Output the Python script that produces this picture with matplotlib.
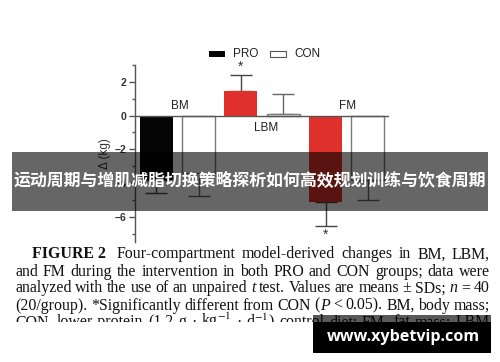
import numpy as np
import matplotlib
matplotlib.use('Agg')
import matplotlib.pyplot as plt
from matplotlib.patches import Rectangle

# chart data (change in kg)
groups = ['BM', 'LBM', 'FM']
pro_means = [-3.8, 1.43, -5.1]
pro_sds = [0.8, 1.0, 1.45]
con_means = [-3.4, 0.08, -3.8]
con_sds = [1.4, 1.22, 1.2]
significant = [False, True, True]
yticks = [2, 0, -2, -4, -6]

banner_text = '运动周期与增肌减脂切换策略探析如何高效规划训练与饮食周期'
watermark = 'www.xybetvip.com'

# caption lines; #...# = bold, _..._ = italic
caption = [
    '#FIGURE\u00a02#\u00a0 Four-compartment model-derived changes in BM, LBM,',
    'and FM during the intervention in both PRO and CON groups; data were',
    'analyzed with the use of an unpaired _t_ test. Values are means ± SDs; _n_ = 40',
    '(20/group). *Significantly different from CON (_P_ < 0.05). BM, body mass;',
    'CON, lower-protein (1.2 g · kg$^{-1}$ · d$^{-1}$) control diet; FM, fat mass; LBM',
]

W, H = 500, 362
plt.rcParams['font.family'] = ['Liberation Sans', 'DejaVu Sans']
plt.rcParams['mathtext.fontset'] = 'stix'
fig = plt.figure(figsize=(W / 100, H / 100), dpi=100)
renderer = fig.canvas.get_renderer()

def fx(x):
    return x / W

def fy(y):
    return 1 - y / H

def text_width(s, **kw):
    t = fig.text(0, 0, s, **kw)
    w = t.get_window_extent(renderer).width
    t.remove()
    return w

ax = fig.add_axes([fx(135), fy(242), fx(389) - fx(135), fy(65) - fy(242)])
ax.set_xlim(-0.5, 5.5)
ax.set_ylim(-7.5, 3)

red = '#e0302c'
pro_colors = ['#050505', red, red]
xs_pro = np.arange(len(groups)) * 2
xs_con = xs_pro + 1
bw = 0.78

ax.bar(xs_pro, pro_means, bw, color=pro_colors, edgecolor='none', zorder=2)
ax.bar(xs_con, con_means, bw, color='white', edgecolor='#7a7a7a', linewidth=1.0, zorder=2)

def one_sided(means, sds):
    lo = [sd if m < 0 else 0 for m, sd in zip(means, sds)]
    hi = [sd if m >= 0 else 0 for m, sd in zip(means, sds)]
    return [lo, hi]

ax.errorbar(xs_pro, pro_means, yerr=one_sided(pro_means, pro_sds), fmt='none',
            ecolor='#444444', elinewidth=1.0, capsize=8, capthick=1.0, zorder=1)
ax.errorbar(xs_con, con_means, yerr=one_sided(con_means, con_sds), fmt='none',
            ecolor='#666666', elinewidth=1.0, capsize=8, capthick=1.0, zorder=1)

for x, m, sd, sig in zip(xs_pro, pro_means, pro_sds, significant):
    if sig:
        y = m + sd + 0.45 if m >= 0 else m - sd - 0.5
        ax.text(x, y, '*', ha='center', va='center', fontsize=10, color='#333333')

# group labels
ax.text(0.55, 0.55, 'BM', ha='center', va='center', fontsize=8.5, color='#222222')
ax.text(2.6, -0.72, 'LBM', ha='center', va='center', fontsize=8.5, color='#222222')
ax.text(4.53, 0.55, 'FM', ha='center', va='center', fontsize=8.5, color='#222222')

ax.axhline(0, color='#555555', linewidth=1.0, zorder=3)
for s in ['top', 'right', 'bottom']:
    ax.spines[s].set_visible(False)
ax.spines['left'].set_color('#555555')
ax.spines['left'].set_linewidth(1.0)
ax.set_xticks([])
ax.set_yticks(yticks)
ax.set_yticks([3, 1, -1, -3, -5, -7], minor=True)
ax.tick_params(axis='y', which='major', length=4, width=1, color='#555555', labelsize=7.5,
               labelcolor='#333333', pad=2)
ax.tick_params(axis='y', which='minor', length=2.5, width=1, color='#555555')
for lab in ax.get_yticklabels():
    lab.set_fontweight('bold')
ax.set_ylabel('Δ (kg)', fontsize=8.5, color='#333333', labelpad=3)
ax.set_facecolor('none')

# legend
fig.add_artist(Rectangle((fx(209), fy(57)), fx(225) - fx(209), fy(51) - fy(57),
                         transform=fig.transFigure, facecolor='#050505', edgecolor='none'))
fig.add_artist(Rectangle((fx(270), fy(57)), fx(286) - fx(270), fy(51) - fy(57),
                         transform=fig.transFigure, facecolor='white', edgecolor='#555555', linewidth=0.8))
fig.text(fx(233), fy(54), 'PRO', ha='left', va='center', fontsize=8.5, color='#222222')
fig.text(fx(294), fy(54), 'CON', ha='left', va='center', fontsize=8.5, color='#222222')

# caption, justified between left and right edges
baselines = [258.5, 275.5, 292.5, 309.5, 326.5]
right = 490
serif = 'Liberation Serif'
probe = text_width(caption[1], fontsize=10, family=serif)
cap_size = 10 * 466 / probe

def parse_word(word):
    # split a word into (text, weight, style) runs
    runs, cur, bold, ital = [], '', False, False
    for ch in word:
        if ch in '#_':
            if cur:
                runs.append((cur, 'bold' if bold else 'normal', 'italic' if ital else 'normal'))
            cur = ''
            if ch == '#':
                bold = not bold
            else:
                ital = not ital
        else:
            cur += ch
    if cur:
        runs.append((cur, 'bold' if bold else 'normal', 'italic' if ital else 'normal'))
    return runs

# formatting state carries across words
def parse_line(line):
    words, bold, ital = [], False, False
    for w in line.split(' '):
        if not w:
            continue
        prefix = ('#' if bold else '') + ('_' if ital else '')
        runs = parse_word(prefix + w)
        bold ^= w.count('#') % 2 == 1
        ital ^= w.count('_') % 2 == 1
        words.append(runs)
    return words

for i, line in enumerate(caption):
    left = 32 if i == 0 else 15
    words = parse_line(line)
    run_w = [[text_width(t, fontsize=cap_size, family=serif, fontweight=wt, fontstyle=st)
              for t, wt, st in runs] for runs in words]
    total = sum(sum(r) for r in run_w)
    gap = (right - left - total) / max(len(words) - 1, 1)
    x = left
    for runs, widths in zip(words, run_w):
        for (t, wt, st), wd in zip(runs, widths):
            fig.text(fx(x), fy(baselines[i]), t, fontsize=cap_size, family=serif,
                     fontweight=wt, fontstyle=st, ha='left', va='baseline', color='#111111', zorder=1)
            x += wd
        x += gap

# cut-off of the last caption line
fig.add_artist(Rectangle((0, 0), 1, fy(321.5), transform=fig.transFigure,
                         facecolor='white', edgecolor='none', zorder=5))

# banner
fig.add_artist(Rectangle((fx(12), fy(211)), fx(488) - fx(12), fy(152) - fy(211),
                         transform=fig.transFigure, facecolor='black', alpha=0.6,
                         edgecolor='none', zorder=6))
cjk = ['Noto Sans CJK SC', 'DejaVu Sans']
bw_probe = text_width(banner_text, fontsize=10, family=cjk, fontweight='bold')
fig.text(0.5, fy(181), banner_text, ha='center', va='center', fontsize=10 * 474 / bw_probe,
         family=cjk, fontweight='bold', color='white', zorder=7)

# watermark box
fig.add_artist(Rectangle((fx(313), fy(321.5)), fx(491) - fx(313), fy(315) - fy(321.5),
                         transform=fig.transFigure, facecolor='black', alpha=0.65,
                         edgecolor='none', zorder=6))
fig.add_artist(Rectangle((fx(313), fy(353)), fx(491) - fx(313), fy(321.5) - fy(353),
                         transform=fig.transFigure, facecolor='black', edgecolor='none', zorder=6))
wm_probe = text_width(watermark, fontsize=10, family='Open Sans', fontweight='bold')
fig.text(fx(403), fy(337), watermark, ha='center', va='center', fontsize=10 * 154 / wm_probe,
         family='Open Sans', fontweight='bold', color='white', zorder=7)

fig.savefig('out.png', dpi=100)
